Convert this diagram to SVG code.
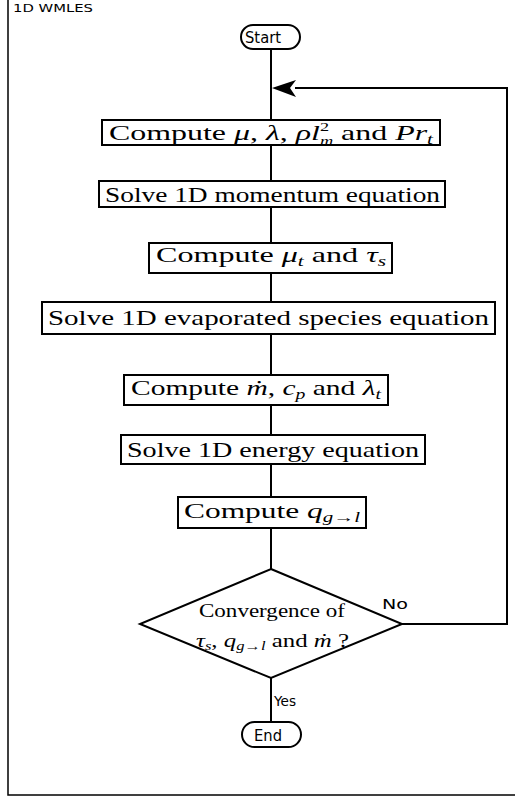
<svg xmlns="http://www.w3.org/2000/svg" width="515" height="801" viewBox="0 0 515 801">
<style>
.frame{fill:none;stroke:#000;stroke-width:1.5}
.box{fill:#fff;stroke:#000;stroke-width:2}
.ln{fill:none;stroke:#000;stroke-width:2}
.t{font-family:"Liberation Serif","DejaVu Serif",serif;font-size:21px;fill:#000}
.d{font-family:"Liberation Serif","DejaVu Serif",serif;font-size:18px;fill:#000}
.i{font-style:italic}
.s{font-size:14px}
.ss{font-size:12px}
.lab{font-family:"DejaVu Sans","Liberation Sans",sans-serif;font-size:14px;fill:#000}
.title{font-family:"DejaVu Sans","Liberation Sans",sans-serif;font-size:11px;fill:#000}
.term{font-family:"DejaVu Sans","Liberation Sans",sans-serif;font-size:15px;fill:#000}
</style>
<rect class="frame" x="8" y="-2" width="520" height="797"/>
<text class="title" x="13" y="12" textLength="80" lengthAdjust="spacingAndGlyphs">1D WMLES</text>
<g id="connectors">
<line class="ln" x1="271" y1="49" x2="271" y2="120"/>
<line class="ln" x1="271" y1="145" x2="271" y2="181"/>
<line class="ln" x1="271" y1="207" x2="271" y2="243"/>
<line class="ln" x1="271" y1="273" x2="271" y2="302"/>
<line class="ln" x1="271" y1="334" x2="271" y2="375"/>
<line class="ln" x1="271" y1="405" x2="271" y2="435"/>
<line class="ln" x1="271" y1="464" x2="271" y2="497"/>
<line class="ln" x1="271" y1="528" x2="271" y2="569"/>
<line class="ln" x1="271" y1="678" x2="271" y2="722"/>
<polyline class="ln" points="402,624 507,624 507,88 295,88"/>
<path d="M272,88 L296,80 L290,88 L296,97 Z" fill="#000"/>
<text class="lab" x="382" y="609" textLength="26" lengthAdjust="spacingAndGlyphs">No</text>
<text class="lab" x="274" y="706" textLength="22" lengthAdjust="spacingAndGlyphs">Yes</text>
</g>
<g id="start">
<rect class="box" x="241" y="25" width="59" height="24" rx="12"/>
<text class="term" x="263" y="43" text-anchor="middle" textLength="36" lengthAdjust="spacingAndGlyphs">Start</text>
</g>
<g id="n1">
<rect class="box" x="102" y="120" width="338" height="25"/>
<text class="t" x="109" y="140" textLength="324" lengthAdjust="spacingAndGlyphs">Compute <tspan class="i">μ</tspan>, <tspan class="i">λ</tspan>, <tspan class="i">ρl</tspan><tspan class="ss" dy="-9">2</tspan><tspan class="ss i" dx="-6" dy="14">m</tspan><tspan dy="-5"> and </tspan><tspan class="i">Pr</tspan><tspan class="s i" dy="4">t</tspan></text>
</g>
<g id="n2">
<rect class="box" x="99" y="181" width="346" height="26"/>
<text class="t" x="105" y="202" textLength="335" lengthAdjust="spacingAndGlyphs">Solve 1D momentum equation</text>
</g>
<g id="n3">
<rect class="box" x="149" y="243" width="243" height="30"/>
<text class="t" x="156" y="262" textLength="230" lengthAdjust="spacingAndGlyphs">Compute <tspan class="i">μ</tspan><tspan class="s i" dy="4">t</tspan><tspan dy="-4"> and </tspan><tspan class="i">τ</tspan><tspan class="s i" dy="4">s</tspan></text>
</g>
<g id="n4">
<rect class="box" x="42" y="302" width="453" height="32"/>
<text class="t" x="48" y="325" textLength="441" lengthAdjust="spacingAndGlyphs">Solve 1D evaporated species equation</text>
</g>
<g id="n5">
<rect class="box" x="124" y="375" width="264" height="30"/>
<text class="t" x="131" y="395" textLength="250" lengthAdjust="spacingAndGlyphs">Compute <tspan class="i">ṁ</tspan>, <tspan class="i">c</tspan><tspan class="s i" dy="4">p</tspan><tspan dy="-4"> and </tspan><tspan class="i">λ</tspan><tspan class="s i" dy="4">t</tspan></text>
</g>
<g id="n6">
<rect class="box" x="121" y="435" width="304" height="29"/>
<text class="t" x="127" y="457" textLength="292" lengthAdjust="spacingAndGlyphs">Solve 1D energy equation</text>
</g>
<g id="n7">
<rect class="box" x="178" y="497" width="188" height="31"/>
<text class="t" x="184" y="518" textLength="176" lengthAdjust="spacingAndGlyphs">Compute <tspan class="i">q</tspan><tspan class="s i" dy="4">g→l</tspan></text>
</g>
<g id="decision">
<polygon class="box" points="271,569 402,624 271,678 140,624"/>
<text class="d" x="272" y="617" text-anchor="middle" textLength="146" lengthAdjust="spacingAndGlyphs">Convergence of</text>
<text class="d" x="196" y="647" textLength="153" lengthAdjust="spacingAndGlyphs"><tspan class="i">τ</tspan><tspan class="ss i" dy="3">s</tspan><tspan dy="-3">, </tspan><tspan class="i">q</tspan><tspan class="ss i" dy="3">g→l</tspan><tspan dy="-3"> and </tspan><tspan class="i">ṁ</tspan> ?</text>
</g>
<g id="end">
<rect class="box" x="242" y="722" width="59" height="25" rx="12.5"/>
<text class="term" x="268" y="741" text-anchor="middle" textLength="28" lengthAdjust="spacingAndGlyphs">End</text>
</g>
</svg>
